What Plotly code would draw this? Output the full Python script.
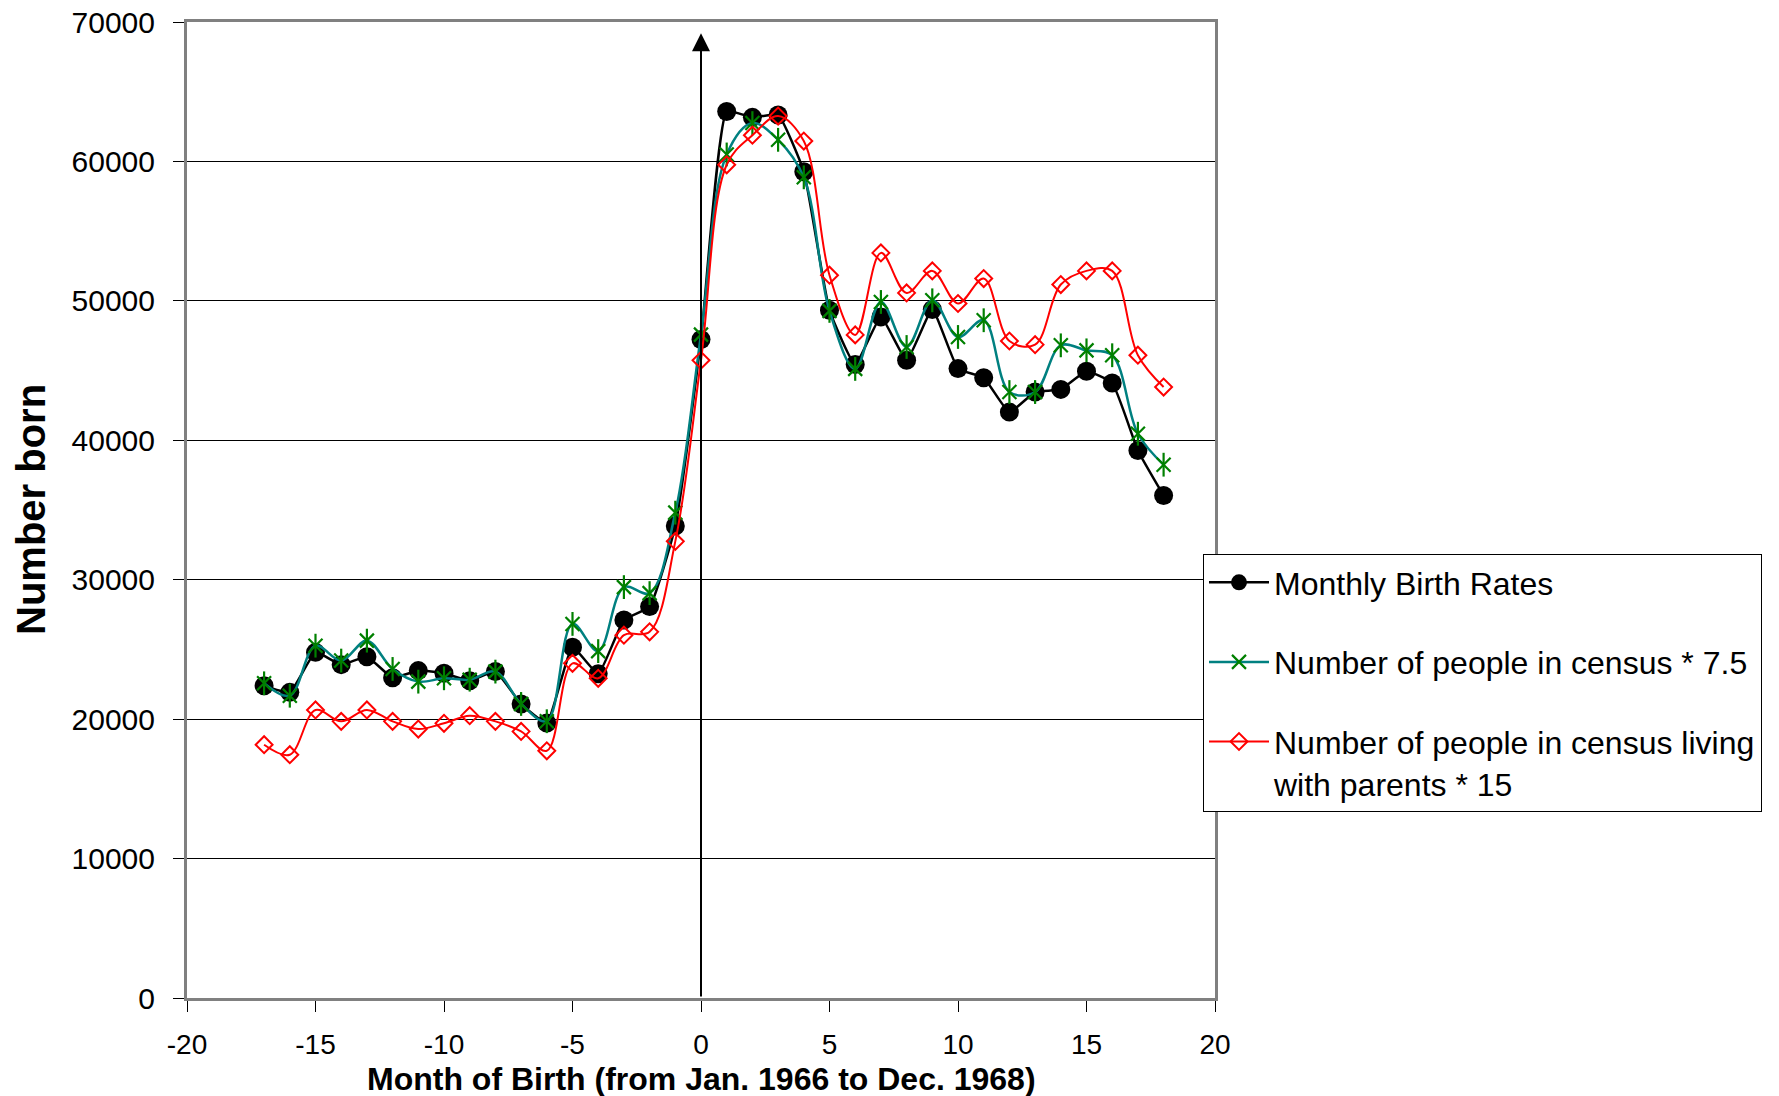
import plotly.graph_objects as go

# Month index relative to Jan. 1967 (month of birth)
months = list(range(-17, 19))

# Monthly registered births
birth_rates = [
    22400, 21920, 24790, 23910, 24480, 22970, 23480, 23290, 22760, 23410,
    21090, 19730, 25150, 23250, 27110, 28070, 33850, 47230, 63580, 63160,
    63330, 59260, 49330, 45440, 48850, 45740, 49380, 45140, 44490, 42020,
    43460, 43650, 44950, 44110, 39270, 36040,
]

# Census counts scaled by 7.5
census_x75 = [
    22570, 21680, 25270, 24200, 25630, 23600, 22690, 22930, 22830, 23410,
    21090, 19850, 26830, 24880, 29470, 29040, 34810, 47580, 60500, 62750,
    61550, 58860, 49280, 45120, 49920, 46690, 50040, 47410, 48610, 43460,
    43460, 46810, 46450, 46100, 40470, 38250,
]

# Census counts of people living with parents, scaled by 15
parents_x15 = [
    18165, 17450, 20660, 19840, 20660, 19840, 19290, 19700, 20250, 19840,
    19120, 17730, 24000, 22930, 26020, 26260, 32750, 45740, 59760, 61880,
    63250, 61460, 51840, 47560, 53440, 50570, 52150, 49810, 51600, 47120,
    46860, 51170, 52150, 52150, 46100, 43820,
]

y_ticks = list(range(0, 70001, 10000))
x_ticks = list(range(-20, 21, 5))
x_tick_text = [str(v) for v in x_ticks]  # plain hyphen for negatives

FONT = "Liberation Sans, Arial, sans-serif"
GREEN = "#008000"

fig = go.Figure()

fig.add_trace(go.Scatter(
    x=months, y=birth_rates, name="Monthly Birth Rates",
    legendgroup="a", mode="lines+markers",
    line=dict(color="black", width=2.5, shape="spline", smoothing=0.4),
    marker=dict(symbol="circle", size=19, color="black"),
))

fig.add_trace(go.Scatter(
    x=months, y=census_x75, name="Number of people in census * 7.5",
    legendgroup="b", mode="lines+markers",
    line=dict(color="#008080", width=2.5, shape="spline", smoothing=1.0),
    marker=dict(symbol="x-thin-open", size=14, color=GREEN,
                line=dict(color=GREEN, width=2.2)),
))
# vertical stroke completing the six-armed star marker
fig.add_trace(go.Scatter(
    x=months, y=census_x75, legendgroup="b", showlegend=False,
    mode="markers", hoverinfo="skip",
    marker=dict(symbol="line-ns-open", size=17, color=GREEN,
                line=dict(color=GREEN, width=2.2)),
))

fig.add_trace(go.Scatter(
    x=months, y=parents_x15,
    name="Number of people in census living<br>with parents * 15",
    legendgroup="c", mode="lines+markers",
    line=dict(color="#FF0000", width=2, shape="spline", smoothing=1.0),
    marker=dict(symbol="diamond-open", size=13, color="#FF0000",
                line=dict(color="#FF0000", width=2)),
))

axis_common = dict(
    showline=True, linecolor="#808080", linewidth=3, mirror=True,
    ticks="outside", ticklen=11, tickwidth=1, tickcolor="black",
    zeroline=False, automargin=False,
)

fig.update_xaxes(
    range=[-20, 20], tickvals=x_ticks, ticktext=x_tick_text, showgrid=False,
    tickfont=dict(family=FONT, size=28, color="black"),
    ticklabelstandoff=8,
    **axis_common,
)
fig.update_yaxes(
    range=[0, 70000], tickvals=y_ticks, tickformat="d",
    showgrid=True, gridcolor="black", gridwidth=1,
    tickfont=dict(family=FONT, size=30, color="black"),
    ticklabelstandoff=12,
    **axis_common,
)

L, R, T, B = 187, 564, 22, 98
W, H = 1779, 1096
pw, ph = W - L - R, H - T - B

annotations = [
    # arrow marking month 0
    dict(x=0, y=69200, ax=0, ay=0, xref="x", yref="y", axref="x", ayref="y",
         text="", showarrow=True, arrowhead=2, arrowsize=1.8, arrowwidth=2,
         arrowcolor="black", standoff=0, startstandoff=0),
    dict(text="<b>Month of Birth (from Jan. 1966 to Dec. 1968)</b>",
         x=0.5, y=(H - B - 1079) / ph, xref="paper", yref="paper",
         xanchor="center", yanchor="middle", showarrow=False,
         font=dict(family=FONT, size=32, color="black")),
    dict(text="<b>Number born</b>", textangle=-90,
         x=(31 - L) / pw, y=0.5, xref="paper", yref="paper",
         xanchor="center", yanchor="middle", showarrow=False,
         font=dict(family=FONT, size=40, color="black")),
]

fig.update_layout(
    width=W, height=H,
    margin=dict(l=L, r=R, t=T, b=B, pad=0, autoexpand=False),
    paper_bgcolor="white", plot_bgcolor="white",
    font=dict(family=FONT, color="black"),
    showlegend=True,
    legend=dict(
        x=(1203 - L) / pw, y=(H - B - 554) / ph,
        xanchor="left", yanchor="top",
        bgcolor="white", bordercolor="black", borderwidth=1,
        font=dict(family=FONT, size=32, color="black"),
        tracegroupgap=35, valign="top", itemwidth=60,
    ),
    annotations=annotations,
)

fig.write_html("out.html")
